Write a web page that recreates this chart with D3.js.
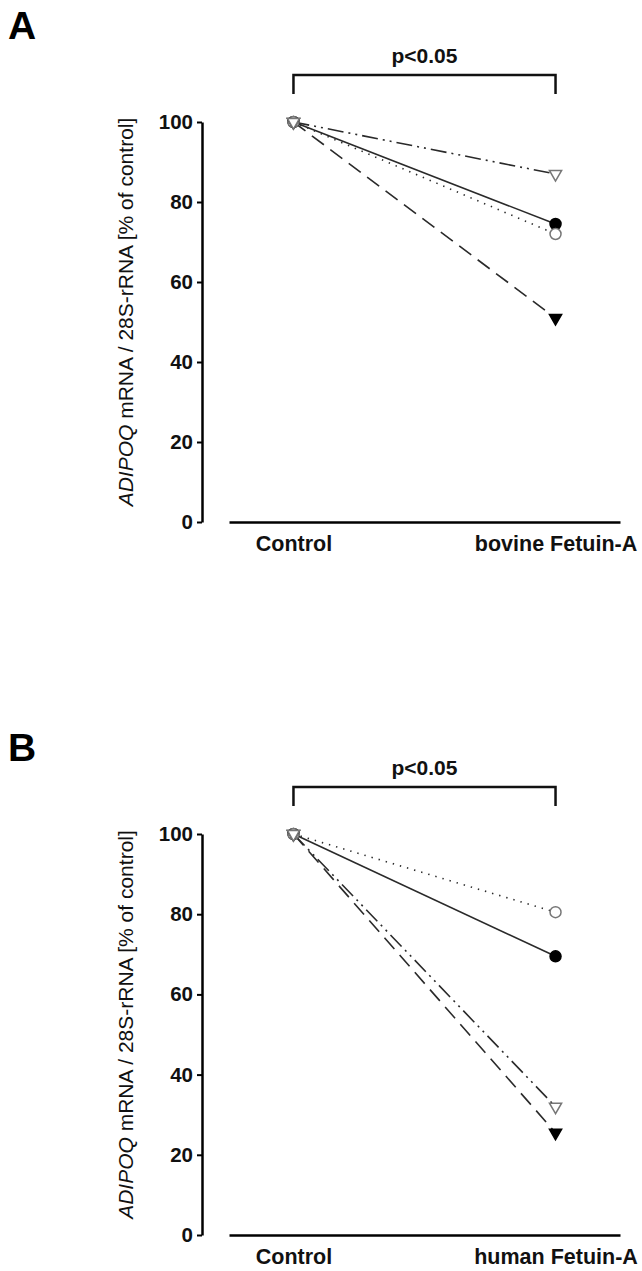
<!DOCTYPE html>
<html>
<head>
<meta charset="utf-8">
<script src="https://cdn.jsdelivr.net/npm/d3@7"></script>
<style>
  body { margin: 0; background: #fff; }
  svg { display: block; font-family: "Liberation Sans", Arial, sans-serif; }
</style>
</head>
<body>
<div id="chart"></div>
<script>
// data
const categoriesA = ["Control", "bovine Fetuin-A"];
const categoriesB = ["Control", "human Fetuin-A"];
const yTicks = [0, 20, 40, 60, 80, 100];

const filledCircleA = [100, 74.5];
const openCircleA = [100, 72];
const filledTriangleA = [100, 51];
const openTriangleA = [100, 87];

const filledCircleB = [100, 69.5];
const openCircleB = [100, 80.5];
const filledTriangleB = [100, 25.5];
const openTriangleB = [100, 32];

const width = 642;
const height = 1271;

const svg = d3.select("#chart")
    .append("svg")
    .attr("width", width)
    .attr("height", height);

const lineStyles = {
    filledCircle: null,
    openCircle: "1.4,6",
    filledTriangle: "15,8",
    openTriangle: "16,5,2,5,2,5"
};

function drawPanel(letter, letterY, categories, series, yBottom, yTop) {
    const g = svg.append("g");

    const x = d3.scalePoint()
        .domain(categories)
        .range([229, 620])
        .padding(0.246);

    const y = d3.scaleLinear()
        .domain([0, 100])
        .range([yBottom, yTop]);

    // panel letter
    g.append("text")
        .attr("x", 8)
        .attr("y", letterY)
        .style("font-size", "39px")
        .style("font-weight", "bold")
        .text(letter);

    // y axis
    const yAxis = g.append("g")
        .attr("transform", "translate(202,0)")
        .call(d3.axisLeft(y).tickValues(yTicks).tickSize(5).tickSizeOuter(0).tickPadding(4));
    yAxis.select(".domain").attr("stroke-width", 2.5);
    yAxis.selectAll(".tick line").attr("stroke-width", 2);
    yAxis.selectAll("text")
        .style("font-size", "20.5px")
        .style("font-weight", "bold")
        .attr("fill", "#111");

    // x axis
    const xAxis = g.append("g")
        .attr("transform", `translate(0,${yBottom})`)
        .call(d3.axisBottom(x).tickSize(0).tickSizeOuter(0).tickPadding(14));
    xAxis.select(".domain").attr("stroke-width", 2.5);
    xAxis.selectAll("text")
        .style("font-size", "21.5px")
        .style("font-weight", "bold")
        .attr("fill", "#111");

    // y axis title
    const title = g.append("text")
        .attr("transform", `translate(133,${(yBottom + yTop) / 2 - 10}) rotate(-90)`)
        .attr("text-anchor", "middle")
        .style("font-size", "21px")
        .attr("fill", "#111");
    title.append("tspan").style("font-style", "italic").text("ADIPOQ");
    title.append("tspan").text(" mRNA / 28S-rRNA [% of control]");

    // significance bracket
    const bx0 = x(categories[0]);
    const bx1 = x(categories[1]);
    const bTop = yTop - 47;
    g.append("path")
        .attr("d", `M${bx0},${bTop + 19}V${bTop}H${bx1}V${bTop + 19}`)
        .attr("fill", "none")
        .attr("stroke", "#111")
        .attr("stroke-width", 2.5);
    g.append("text")
        .attr("x", (bx0 + bx1) / 2)
        .attr("y", bTop - 12)
        .attr("text-anchor", "middle")
        .style("font-size", "21px")
        .style("font-weight", "bold")
        .attr("fill", "#111")
        .text("p<0.05");

    // lines
    const line = d3.line()
        .x((d, i) => x(categories[i]))
        .y(d => y(d));

    const order = ["filledCircle", "openCircle", "filledTriangle", "openTriangle"];
    order.forEach(key => {
        g.append("path")
            .datum(series[key])
            .attr("d", line)
            .attr("fill", "none")
            .attr("stroke", "#2a2a2a")
            .attr("stroke-width", 1.6)
            .attr("stroke-dasharray", lineStyles[key]);
    });

    // markers
    const circleSym = d3.symbol().type(d3.symbolCircle).size(95);
    const triSym = d3.symbol().type(d3.symbolTriangle).size(64);

    const markerDefs = [
        { key: "filledCircle", sym: circleSym, fill: "#000", stroke: "#000", rot: 0 },
        { key: "openCircle", sym: circleSym, fill: "#fff", stroke: "#777", rot: 0 },
        { key: "filledTriangle", sym: triSym, fill: "#000", stroke: "#000", rot: 180 },
        { key: "openTriangle", sym: triSym, fill: "#fff", stroke: "#777", rot: 180 }
    ];

    markerDefs.forEach(m => {
        g.selectAll(null)
            .data(series[m.key])
            .enter()
            .append("path")
            .attr("d", m.sym)
            .attr("transform", (d, i) => `translate(${x(categories[i])},${y(d)}) rotate(${m.rot})`)
            .attr("fill", m.fill)
            .attr("stroke", m.stroke)
            .attr("stroke-width", 1.5);
    });
}

drawPanel("A", 39, categoriesA, {
    filledCircle: filledCircleA,
    openCircle: openCircleA,
    filledTriangle: filledTriangleA,
    openTriangle: openTriangleA
}, 522, 122);

drawPanel("B", 761, categoriesB, {
    filledCircle: filledCircleB,
    openCircle: openCircleB,
    filledTriangle: filledTriangleB,
    openTriangle: openTriangleB
}, 1235, 834);
</script>
</body>
</html>
